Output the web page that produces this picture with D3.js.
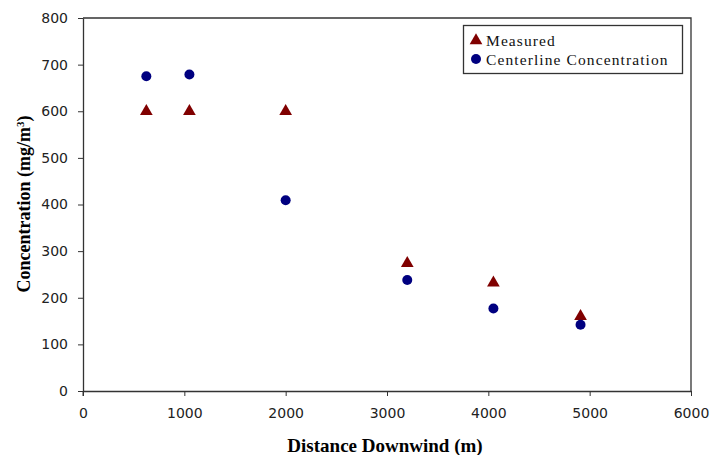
<!DOCTYPE html>
<html>
<head>
<meta charset="utf-8">
<script src="https://cdn.jsdelivr.net/npm/d3@7"></script>
<style>
  html, body { margin: 0; padding: 0; background: #fff; }
  svg { display: block; }
  .tick text { font-family: "DejaVu Sans", Arial, sans-serif; font-size: 14px; fill: #222; }
  .tick line, .domain { stroke: #333; }
</style>
</head>
<body>
<svg id="chart" width="723" height="455"></svg>
<script>
// Distance downwind (m) for each sampling station
const distances = [625, 1050, 2000, 3200, 4050, 4910];
// Measured concentrations (mg/m3)
const measured = [600, 600, 600, 274, 232, 160];
// Modelled centerline concentrations (mg/m3)
const centerline = [675, 679, 409, 238, 177, 142];

const xTicks = [0, 1000, 2000, 3000, 4000, 5000, 6000];
const yTicks = [0, 100, 200, 300, 400, 500, 600, 700, 800];

const svg = d3.select("#chart");
const plotL = 83, plotR = 691, plotT = 18, plotB = 391;

const x = d3.scaleLinear().domain([0, 6000]).range([plotL, plotR]);
const y = d3.scaleLinear().domain([0, 800]).range([plotB, plotT]);

// plot frame (top and right edges)
svg.append("path")
  .attr("d", `M${plotL},${plotT}H${plotR}V${plotB}`)
  .attr("fill", "none").attr("stroke", "#333").attr("stroke-width", 1.3);

svg.append("g")
  .attr("transform", `translate(0,${plotB})`)
  .call(d3.axisBottom(x).tickValues(xTicks).tickFormat(d3.format("d"))
    .tickSizeInner(5).tickSizeOuter(0).tickPadding(12));
svg.append("g")
  .attr("transform", `translate(${plotL},0)`)
  .call(d3.axisLeft(y).tickValues(yTicks).tickFormat(d3.format("d"))
    .tickSizeInner(5).tickSizeOuter(0).tickPadding(10));
svg.selectAll(".domain").attr("stroke-width", 1.3);
// y axis line runs slightly below the x axis
svg.append("line").attr("x1", plotL).attr("x2", plotL)
  .attr("y1", plotB).attr("y2", plotB + 5).attr("stroke", "#333");

// axis titles
svg.append("text")
  .attr("x", x(3000) - 2).attr("y", 452)
  .attr("text-anchor", "middle")
  .attr("font-family", "'Liberation Serif', 'Times New Roman', serif")
  .attr("font-weight", "bold").attr("font-size", 19)
  .text("Distance Downwind (m)");

const yt = svg.append("text")
  .attr("transform", `translate(30,204) rotate(-90)`)
  .attr("text-anchor", "middle")
  .attr("font-family", "'Liberation Serif', 'Times New Roman', serif")
  .attr("font-weight", "bold").attr("font-size", 18);
yt.append("tspan").text("Concentration (mg/m");
yt.append("tspan").attr("baseline-shift", "super").attr("font-size", 11).text("3");
yt.append("tspan").text(")");

const red = "#800000", blue = "#000080";
const tri = d3.symbol().type(d3.symbolTriangle).size(70);

// measured points
svg.append("g").selectAll("path")
  .data(d3.zip(distances, measured))
  .join("path")
  .attr("transform", d => `translate(${x(d[0])},${y(d[1])})`)
  .attr("d", tri)
  .attr("fill", red);

// centerline points
svg.append("g").selectAll("circle")
  .data(d3.zip(distances, centerline))
  .join("circle")
  .attr("cx", d => x(d[0])).attr("cy", d => y(d[1]))
  .attr("r", 5)
  .attr("fill", blue);

// legend
const lg = svg.append("g");
lg.append("rect")
  .attr("x", 463.5).attr("y", 25.5).attr("width", 219).attr("height", 48)
  .attr("fill", "#fff").attr("stroke", "#333").attr("stroke-width", 1.3);
const legendItems = [
  { label: "Measured", color: red, shape: "tri" },
  { label: "Centerline Concentration", color: blue, shape: "circle" }
];
legendItems.forEach((it, i) => {
  const cy = 40.5 + i * 18.5;
  if (it.shape === "tri") {
    lg.append("path").attr("transform", `translate(476,${cy})`)
      .attr("d", tri).attr("fill", it.color);
  } else {
    lg.append("circle").attr("cx", 476).attr("cy", cy).attr("r", 5).attr("fill", it.color);
  }
  lg.append("text")
    .attr("x", 486).attr("y", cy + 5.5)
    .attr("font-family", "'Liberation Serif', 'Times New Roman', serif")
    .attr("font-size", 15.5).attr("letter-spacing", 1.1).attr("fill", "#111")
    .text(it.label);
});
</script>
</body>
</html>
